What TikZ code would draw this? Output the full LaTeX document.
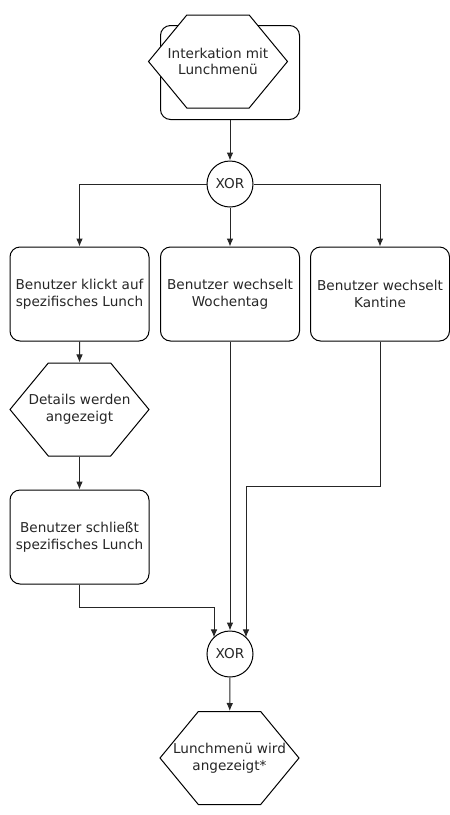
\documentclass[tikz,border=0pt]{standalone}
\usepackage{fontspec}
\setmainfont{DejaVu Sans}
\usetikzlibrary{shapes.symbols,arrows.meta}
\begin{document}
\begin{tikzpicture}
    \def\dx{0.75pt}
    \def\dy{-0.75pt}

    \useasboundingbox (0,0) rectangle (450*\dx,815*\dy);

    \tikzstyle{every node}=[font=\fontsize{10.2}{12.5}\selectfont, line width=0.75pt, text=black!85]
    \tikzstyle{act}=[draw, rounded corners=7.5pt, minimum width=139*\dx, minimum height=94*\dx, align=center]
    \tikzstyle{evt}=[draw, fill=white, signal, signal to=east and west, signal pointer angle=101, minimum width=139*\dx, minimum height=93*\dx, inner xsep=-28*\dx, inner ysep=0pt, align=center]
    \tikzstyle{xor}=[draw, circle, minimum size=46*\dx, inner sep=0pt]

    \node[act]  (startbox) at (230*\dx,72.5*\dy) {};
    \node[evt]  (start) at (218*\dx,61.5*\dy) {Interkation mit\\Lunchmenü};
    \node[xor]  (xor1) at (230*\dx,184*\dy) {XOR};
    \node[act]  (klick) at (79.5*\dx,294*\dy) {Benutzer klickt auf\\spezifisches Lunch};
    \node[act]  (woche) at (230*\dx,294*\dy) {Benutzer wechselt\\Wochentag};
    \node[act]  (kantine) at (380*\dx,294*\dy) {Benutzer wechselt\\Kantine};
    \node[evt]  (details) at (79.5*\dx,409.5*\dy) {Details werden\\angezeigt};
    \node[act]  (schliesst) at (79.5*\dx,537*\dy) {Benutzer schließt\\spezifisches Lunch};
    \node[xor]  (xor2) at (230*\dx,654*\dy) {XOR};
    \node[evt]  (ende) at (229.5*\dx,758*\dy) {Lunchmenü wird\\angezeigt*};

    \coordinate (j1) at (214*\dx,607*\dy);
    \coordinate (j2) at (246*\dx,486*\dy);

    \pgfsetarrowsend{Latex[length=6pt,width=5pt]}
    \tikzstyle{fwd} = [draw=black!85, line width=0.75pt]

          \draw [fwd] (startbox) -- (xor1);
          \draw [fwd] (xor1) -| (klick);
          \draw [fwd] (xor1) -- (woche);
          \draw [fwd] (xor1) -| (kantine);
          \draw [fwd] (klick) -- (details);
          \draw [fwd] (details) -- (schliesst);
          \draw [fwd] (schliesst) |- (j1) -- (j1 |- xor2.north west);
          \draw [fwd] (woche) -- (xor2);
          \draw [fwd] (kantine) |- (j2) -- (j2 |- xor2.north east);
          \draw [fwd] (xor2) -- (ende);

  \end{tikzpicture}
\end{document}
